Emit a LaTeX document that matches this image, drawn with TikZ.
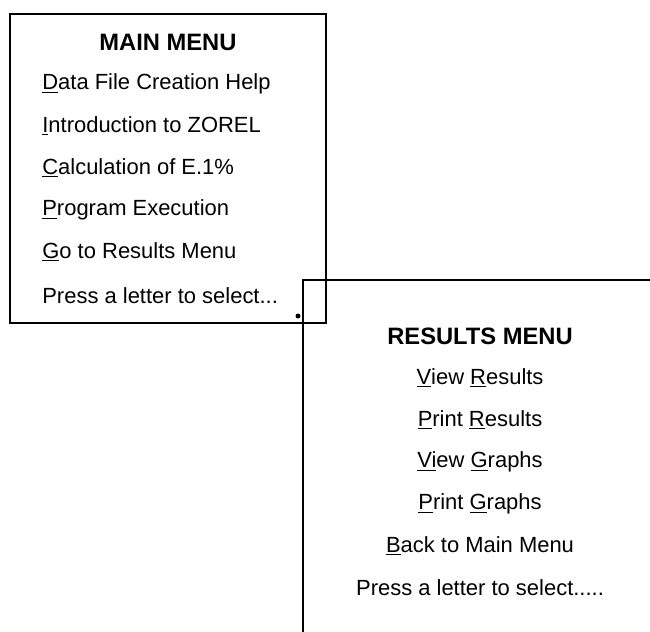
\documentclass[tikz,border=0pt]{standalone}
\usepackage{fontspec}
\setmainfont{Liberation Sans}
\usepackage{tikz}

\begin{document}
\begin{tikzpicture}[x=0.02cm,y=-0.02cm,
  menu/.style={font=\fontsize{12.5}{15}\selectfont,inner sep=0pt},
  menutitle/.style={font=\fontsize{13.5}{16}\selectfont\bfseries,inner sep=0pt}]
\useasboundingbox (0,0) rectangle (650,632);
% main menu box
\draw[line width=1.1pt] (10,14) rectangle (326,323);
% results menu box, runs off the page
\draw[line width=1.1pt] (650,280) -- (303,280) -- (303,632);
\fill (298,316) circle (2.5);

\node[menutitle] (mainttl) at (168,42) {MAIN MENU};
\node[menu,anchor=west] (datahelp) at (42,84) {\underline{D}ata File Creation Help};
\node[menu,anchor=west] (intro) at (42,126) {\underline{I}ntroduction to ZOREL};
\node[menu,anchor=west] (calc) at (42,168) {\underline{C}alculation of E.1\%};
\node[menu,anchor=west] (progexec) at (42,210) {\underline{P}rogram Execution};
\node[menu,anchor=west] (goresults) at (42,252) {\underline{G}o to Results Menu};
\node[menu,anchor=west] (mainpress) at (42,296) {Press a letter to select...};

\node[menutitle] (resttl) at (480,336) {RESULTS MENU};
\node[menu] (viewres) at (480,378) {\underline{V}iew \underline{R}esults};
\node[menu] (printres) at (480,420) {\underline{P}rint \underline{R}esults};
\node[menu] (viewgr) at (480,462) {\underline{Vi}ew \underline{G}raphs};
\node[menu] (printgr) at (480,504) {\underline{P}rint \underline{G}raphs};
\node[menu] (backmain) at (480,546) {\underline{B}ack to Main Menu};
\node[menu] (respress) at (480,588) {Press a letter to select.....};
\end{tikzpicture}
\end{document}
